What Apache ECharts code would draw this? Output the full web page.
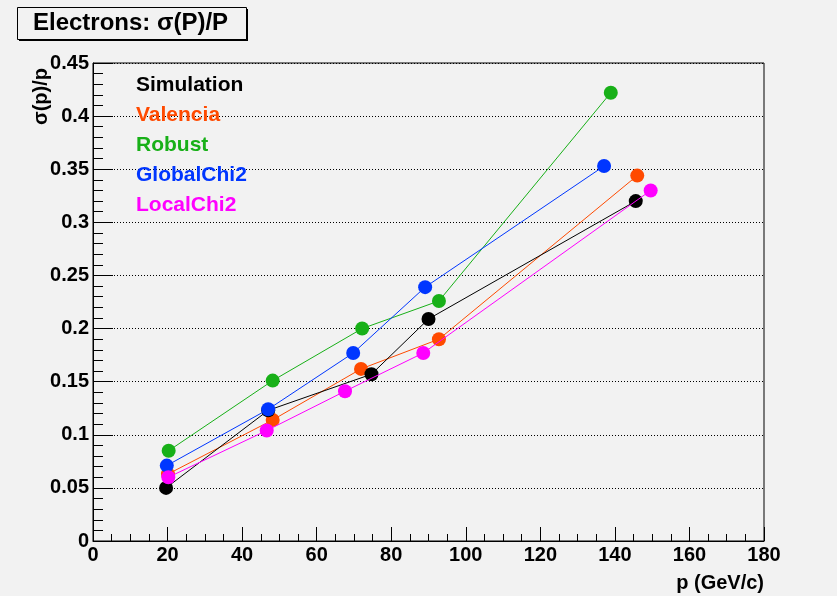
<!DOCTYPE html>
<html>
<head>
<meta charset="utf-8">
<title>Electrons: σ(P)/P</title>
<script src="https://cdn.jsdelivr.net/npm/echarts@6/dist/echarts.min.js"></script>
<style>
  html, body { margin: 0; padding: 0; background: #f2f2f2; }
  #chart { width: 837px; height: 596px; }
</style>
</head>
<body>
<div id="chart"></div>
<script>
// momentum (GeV/c) and sigma(p)/p
const simX = [19.6, 47.0, 74.7, 90.0, 145.6]
const simY = [0.050, 0.123, 0.157, 0.209, 0.320]
const valX = [20.1, 48.2, 71.9, 92.8, 146.0]
const valY = [0.063, 0.114, 0.162, 0.190, 0.344]
const robX = [20.3, 48.2, 72.2, 92.8, 138.9]
const robY = [0.085, 0.151, 0.200, 0.226, 0.422]
const gloX = [19.8, 47.0, 69.8, 89.1, 137.1]
const gloY = [0.071, 0.124, 0.177, 0.239, 0.353]
const locX = [20.2, 46.6, 67.6, 88.6, 149.6]
const locY = [0.060, 0.104, 0.141, 0.177, 0.330]

const seriesNames = ['Simulation', 'Valencia', 'Robust', 'GlobalChi2', 'LocalChi2']
const seriesColors = ['#000000', '#ff4a00', '#18b018', '#0036ff', '#ff00ff']

const pairs = (xs, ys) => xs.map((x, i) => [x, ys[i]])
const allData = [pairs(simX, simY), pairs(valX, valY), pairs(robX, robY), pairs(gloX, gloY), pairs(locX, locY)]
const zOrder = [4, 2, 3, 5, 6]

const font = '"Liberation Sans", Arial, Helvetica, sans-serif'

const chart = echarts.init(document.getElementById('chart'))

const option = {
  backgroundColor: '#f2f2f2',
  animation: false,
  grid: {
    left: 93,
    right: 73,
    top: 63,
    bottom: 55,
    show: true,
    borderColor: '#000',
    borderWidth: 1,
    backgroundColor: 'transparent'
  },
  legend: {
    orient: 'vertical',
    left: 126,
    top: 68,
    icon: 'none',
    itemWidth: 0,
    itemHeight: 14,
    itemGap: 6,
    selectedMode: false,
    textStyle: { fontFamily: font, fontWeight: 'bold', fontSize: 21, lineHeight: 24 },
    data: seriesNames.map((n, i) => ({ name: n, textStyle: { color: seriesColors[i] } }))
  },
  xAxis: {
    type: 'value',
    min: 0,
    max: 180,
    interval: 20,
    name: 'p (GeV/c)',
    nameLocation: 'end',
    nameGap: 0,
    nameTextStyle: {
      color: '#000', fontFamily: font, fontWeight: 'bold', fontSize: 20,
      align: 'right', verticalAlign: 'top', padding: [32, 0, 0, 0]
    },
    axisLine: { lineStyle: { color: '#000', width: 1 } },
    axisTick: { inside: true, length: 14, lineStyle: { color: '#000' } },
    minorTick: { show: true, splitNumber: 4, length: 7, lineStyle: { color: '#000' } },
    axisLabel: { color: '#000', fontFamily: font, fontWeight: 'bold', fontSize: 20, margin: 4 },
    splitLine: { show: false }
  },
  yAxis: {
    type: 'value',
    min: 0,
    max: 0.45,
    interval: 0.05,
    axisLine: { show: true, lineStyle: { color: '#000', width: 1 } },
    axisTick: { show: true, inside: true, length: 20, lineStyle: { color: '#000' } },
    minorTick: { show: true, splitNumber: 5, length: 10, lineStyle: { color: '#000' } },
    axisLabel: { color: '#000', fontFamily: font, fontWeight: 'bold', fontSize: 20, margin: 4 },
    splitLine: { show: true, lineStyle: { color: '#000', width: 1, type: [1, 2] } }
  },
  graphic: [
    { type: 'rect', left: 19, top: 9, shape: { width: 229, height: 32 }, style: { fill: '#000' }, silent: true },
    { type: 'rect', left: 17, top: 7, shape: { width: 229, height: 32 }, style: { fill: '#f2f2f2', stroke: '#000', lineWidth: 1 }, silent: true },
    {
      type: 'text', x: 33, y: 23,
      style: {
        text: 'Electrons: σ(P)/P', fill: '#000', font: 'bold 24px ' + font,
        textAlign: 'left', textVerticalAlign: 'middle'
      },
      silent: true
    },
    {
      type: 'text', x: 41, y: 125, rotation: Math.PI / 2,
      style: {
        text: 'σ(p)/p', fill: '#000', font: 'bold 20px ' + font,
        textAlign: 'left', textVerticalAlign: 'middle'
      },
      silent: true
    }
  ],
  series: seriesNames.map((n, i) => ({
    name: n,
    type: 'line',
    z: zOrder[i],
    data: allData[i],
    symbol: 'circle',
    symbolSize: 14,
    itemStyle: { color: seriesColors[i] },
    lineStyle: { color: seriesColors[i], width: 1 }
  }))
}

chart.setOption(option)
</script>
</body>
</html>
